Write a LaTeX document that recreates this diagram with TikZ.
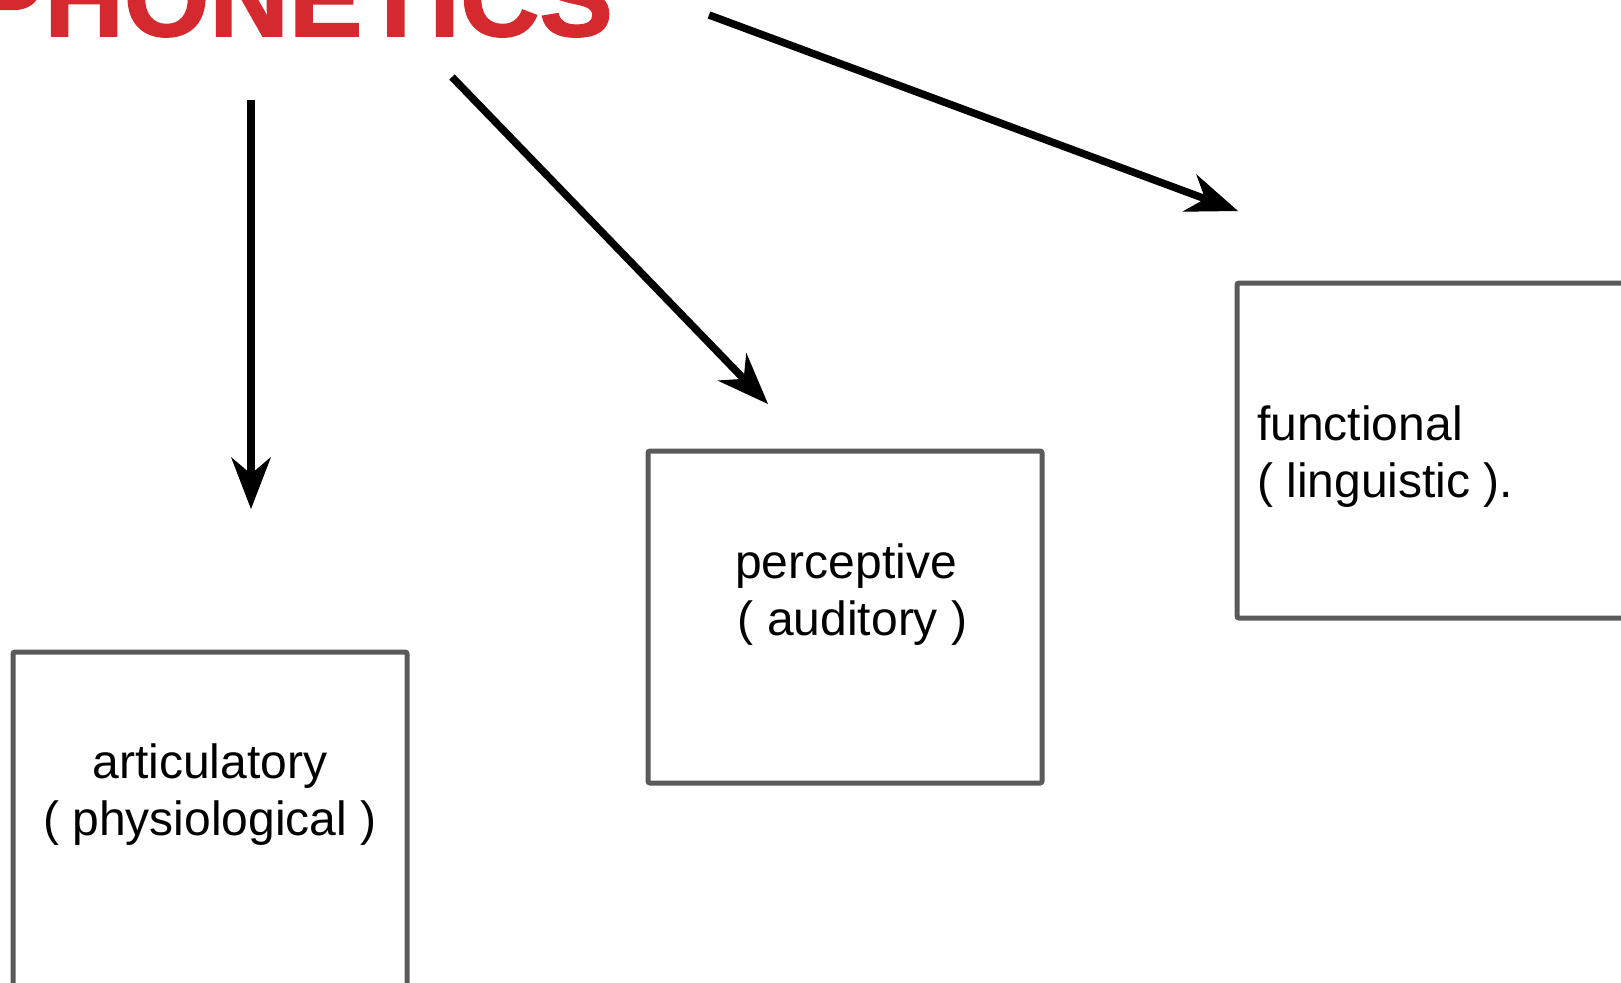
\documentclass[tikz,border=0pt]{standalone}
\usepackage{fontspec}
\setmainfont{Liberation Sans}
\newfontfamily\headingfont[FakeBold=1.5]{Liberation Sans Bold}
\usetikzlibrary{arrows.meta,positioning}
\definecolor{titlered}{RGB}{211,41,47}
\definecolor{boxgray}{RGB}{90,90,90}
\begin{document}
\begin{tikzpicture}[x=1pt, y=-1pt,
    arrowstyle/.style={draw, line width=7.5pt, -{Stealth[length=52pt, width=40pt, inset=17pt, line width=1pt]}},
    category/.style={rectangle, draw=boxgray, line width=5pt, rounded corners=2pt,
        inner sep=0pt, outer sep=0pt, anchor=north west},
    caption/.style={font=\fontsize{48}{57}\selectfont, inner sep=0pt, anchor=base},
    heading/.style={font=\fontsize{110}{120}\selectfont\headingfont, text=titlered,
        inner sep=0pt, anchor=base east}
]
\clip (0,0) rectangle (1621,982);
\node (Phonetics) [heading] at (613,36) {PHONETICS};
% the three branches
\node (Articulatory) [category, minimum width=394pt, minimum height=360pt] at (13,652) {};
\node (Perceptive) [category, minimum width=394pt, minimum height=332pt] at (648,451) {};
\node (Functional) [category, minimum width=420pt, minimum height=335pt] at (1237,283) {};
% captions, anchored at the baseline of their last line
\node (ArticulatoryText) [caption, align=center] at (210,835) {articulatory\\( physiological )};
\node (PerceptiveText) [caption, align=center] at (846,635) {perceptive\\\ ( auditory )};
\node (FunctionalText) [caption, align=left, anchor=base west] at (1257,497) {functional\\( linguistic ).};
% arrows
\coordinate (ArticulatoryStart) at (251,100);
\coordinate (ArticulatoryEnd) at (251,509);
\coordinate (PerceptiveStart) at (452,77);
\coordinate (PerceptiveEnd) at (768,404);
\coordinate (FunctionalStart) at (709,15);
\coordinate (FunctionalEnd) at (1238,211);
\draw [arrowstyle] (ArticulatoryStart) -- (ArticulatoryEnd);
\draw [arrowstyle] (PerceptiveStart) -- (PerceptiveEnd);
\draw [arrowstyle] (FunctionalStart) -- (FunctionalEnd);
\end{tikzpicture}
\end{document}
